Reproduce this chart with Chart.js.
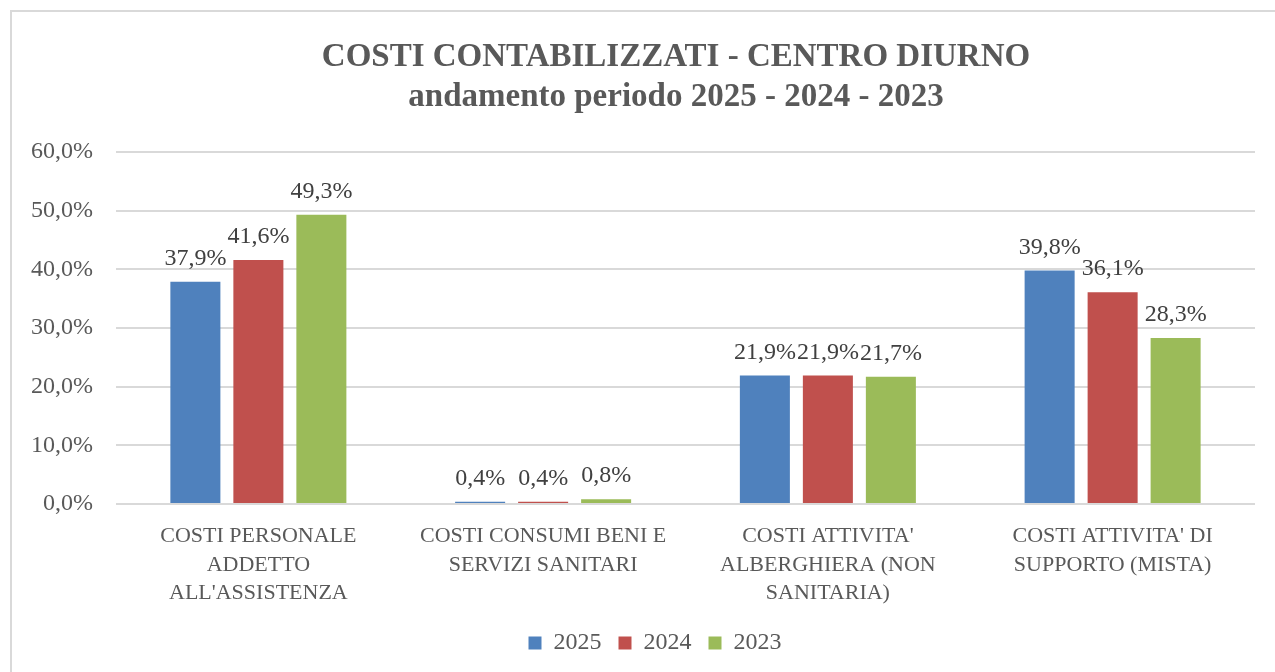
<!DOCTYPE html>
<html>
<head>
<meta charset="utf-8">
<script src="https://cdn.jsdelivr.net/npm/chart.js@4/dist/chart.umd.min.js"></script>
<style>
  html, body { margin: 0; padding: 0; background: #fff; overflow: hidden; }
  .frame { position: absolute; left: 10px; top: 10px; width: 1400px; height: 700px; border: 2px solid #d9d9d9; }
  #chart { position: absolute; left: 12px; top: 12px; }
</style>
</head>
<body>
<div class="frame"></div>
<canvas id="chart" width="1328" height="660"></canvas>
<script>
// categorie (etichette asse x su più righe)
var categorie = [
  ['COSTI PERSONALE', 'ADDETTO', "ALL'ASSISTENZA"],
  ['COSTI CONSUMI BENI E', 'SERVIZI SANITARI'],
  ["COSTI ATTIVITA'", 'ALBERGHIERA (NON', 'SANITARIA)'],
  ["COSTI ATTIVITA' DI", 'SUPPORTO (MISTA)']
];
var anni = ['2025', '2024', '2023'];
var valori2025 = [37.9, 0.4, 21.9, 39.8];
var valori2024 = [41.6, 0.4, 21.9, 36.1];
var valori2023 = [49.3, 0.8, 21.7, 28.3];
var titolo = ['COSTI CONTABILIZZATI - CENTRO DIURNO', 'andamento periodo 2025 - 2024 - 2023'];

function fmt(v) {
  return v.toFixed(1).replace('.', ',') + '%';
}

Chart.defaults.font.family = "'Liberation Serif', serif";
Chart.defaults.color = '#595959';

// etichette dei valori sopra le barre
var etichetteValori = {
  id: 'etichetteValori',
  afterDatasetsDraw: function(chart) {
    var ctx = chart.ctx;
    ctx.save();
    ctx.font = "24px 'Liberation Serif', serif";
    ctx.fillStyle = '#404040';
    ctx.textAlign = 'center';
    ctx.textBaseline = 'alphabetic';
    chart.data.datasets.forEach(function(ds, i) {
      chart.getDatasetMeta(i).data.forEach(function(bar, j) {
        ctx.fillText(fmt(ds.data[j]), bar.x, bar.y - 17);
      });
    });
    ctx.restore();
  }
};

var ctx = document.getElementById('chart').getContext('2d');
var myChart = new Chart(ctx, {
  type: 'bar',
  data: {
    labels: categorie,
    datasets: [
      { label: anni[0], data: valori2025, backgroundColor: '#4f81bd' },
      { label: anni[1], data: valori2024, backgroundColor: '#c0504d' },
      { label: anni[2], data: valori2023, backgroundColor: '#9bbb59' }
    ]
  },
  options: {
    responsive: false,
    devicePixelRatio: 1,
    animation: false,
    categoryPercentage: 0.6637,
    barPercentage: 0.794,
    layout: { padding: { top: 0, bottom: 7, left: 0, right: 0 } },
    plugins: {
      title: {
        display: true,
        text: titolo,
        color: '#595959',
        font: { size: 33, weight: 'bold', lineHeight: '40px' },
        padding: { top: 25, bottom: 35 }
      },
      legend: {
        position: 'bottom',
        onClick: function() {},
        labels: {
          boxWidth: 13,
          boxHeight: 13,
          padding: 17,
          color: '#595959',
          font: { size: 24 },
          generateLabels: function(chart) {
            var items = Chart.defaults.plugins.legend.labels.generateLabels(chart);
            // voce vuota per spostare la legenda un po' a sinistra
            items.push({ text: '', fillStyle: 'rgba(0,0,0,0)', strokeStyle: 'rgba(0,0,0,0)', lineWidth: 0, hidden: false });
            return items;
          }
        }
      },
      tooltip: { enabled: false }
    },
    scales: {
      x: {
        grid: { display: false, drawTicks: false },
        border: { display: false },
        ticks: {
          color: '#595959',
          padding: 18,
          maxRotation: 0,
          autoSkip: false,
          font: { size: 22, lineHeight: '28.5px' }
        },
        afterFit: function(s) { s.height = 110; }
      },
      y: {
        min: 0,
        max: 60,
        grid: { color: '#d9d9d9', lineWidth: 2, drawTicks: false },
        border: { display: false },
        ticks: {
          stepSize: 10,
          padding: 23,
          color: '#595959',
          font: { size: 24 },
          callback: function(v) { return fmt(v); }
        },
        afterFit: function(s) { s.width = 104; }
      },
      yR: {
        position: 'right',
        grid: { display: false, drawTicks: false },
        border: { display: false },
        ticks: { display: false },
        afterFit: function(s) { s.width = 85; }
      }
    }
  },
  plugins: [etichetteValori]
});
</script>
</body>
</html>
